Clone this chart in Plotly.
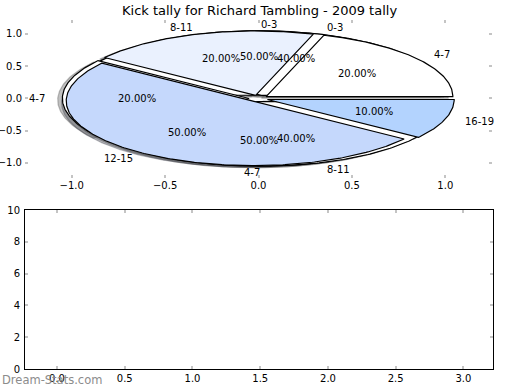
import numpy as np
import plotly.graph_objects as go

# ---- data ----
title_text = "Kick tally for Richard Tambling - 2009 tally"
pie1_labels = ["0-3", "4-7"]
pie1_values = [50, 50]
pie2_labels = ["0-3", "4-7", "8-11"]
pie2_values = [40, 20, 40]
pie3_labels = ["4-7", "8-11", "12-15", "16-19"]
pie3_values = [20, 20, 50, 10]
pie1_colors = ["#ffffff", "#ffffff"]
pie2_colors = ["#ffffff", "#ffffff", "#ffffff"]
pie3_colors = ["#ffffff", "#eaf1fe", "#c5d8fc", "#b3d3fe"]
pie_axis_ticks = [-1.0, -0.5, 0.0, 0.5, 1.0]
bottom_x_ticks = [0.0, 0.5, 1.0, 1.5, 2.0, 2.5, 3.0]
bottom_y_ticks = [0, 2, 4, 6, 8, 10]
watermark = "Dream-Stats.com"

pies = [
    (pie1_labels, pie1_values, pie1_colors),
    (pie2_labels, pie2_values, pie2_colors),
    (pie3_labels, pie3_values, pie3_colors),
]

EXPLODE = 0.05
SHADOW_OFF = 0.025
LABEL_DIST = 1.1
PCT_DIST = 0.6
FONT = "DejaVu Sans"


def wedge_geometry(values):
    vals = np.asarray(values, dtype=float)
    frac = vals / vals.sum()
    starts = np.concatenate([[0.0], np.cumsum(frac)[:-1]]) * 360.0
    ends = np.cumsum(frac) * 360.0
    out = []
    for t1, t2, f in zip(starts, ends, frac):
        tm = np.deg2rad((t1 + t2) / 2.0)
        cx, cy = EXPLODE * np.cos(tm), EXPLODE * np.sin(tm)
        arc = np.deg2rad(np.linspace(t1, t2, max(8, int((t2 - t1) * 1.5))))
        xs = np.concatenate([[cx], cx + np.cos(arc), [cx]])
        ys = np.concatenate([[cy], cy + np.sin(arc), [cy]])
        out.append((xs, ys, tm, cx, cy, f))
    return out


def hex_to_rgb(h):
    h = h.lstrip("#")
    return tuple(int(h[i:i + 2], 16) for i in (0, 2, 4))


fig = go.Figure()
geoms = [wedge_geometry(v) for _, v, _ in pies]

# shadows (drawn beneath all wedges)
for (labels, values, colors), geom in zip(pies, geoms):
    for (xs, ys, tm, cx, cy, f), col in zip(geom, colors):
        r, g, b = hex_to_rgb(col)
        sc = "rgba(%d,%d,%d,0.35)" % (0.3 * r, 0.3 * g, 0.3 * b)
        fig.add_trace(go.Scatter(
            x=xs - SHADOW_OFF, y=ys - SHADOW_OFF, mode="lines", fill="toself",
            fillcolor=sc, line=dict(color=sc, width=1.2),
            hoverinfo="skip", showlegend=False, xaxis="x", yaxis="y"))

# wedges
annotations = []
for (labels, values, colors), geom in zip(pies, geoms):
    for (xs, ys, tm, cx, cy, f), col, lab in zip(geom, colors, labels):
        fig.add_trace(go.Scatter(
            x=xs, y=ys, mode="lines", fill="toself", fillcolor=col,
            line=dict(color="black", width=1.2),
            hoverinfo="skip", showlegend=False, xaxis="x", yaxis="y"))
        lx = cx + LABEL_DIST * np.cos(tm)
        ly = cy + LABEL_DIST * np.sin(tm)
        right_side = lx > 0
        annotations.append(dict(
            x=lx, y=ly, xref="x", yref="y", text=lab, showarrow=False,
            xanchor="left" if right_side else "right", yanchor="middle",
            xshift=0 if right_side else 3,
            font=dict(family=FONT, size=10, color="black")))
        px = cx + PCT_DIST * np.cos(tm)
        py = cy + PCT_DIST * np.sin(tm)
        annotations.append(dict(
            x=px, y=py, xref="x", yref="y", text="%1.2f%%" % (f * 100),
            showarrow=False, xanchor="center", yanchor="middle",
            font=dict(family=FONT, size=10, color="black")))

# empty lower axes
fig.add_trace(go.Scatter(x=[], y=[], xaxis="x2", yaxis="y2",
                         showlegend=False, hoverinfo="skip"))

W, H = 520, 390

annotations.append(dict(
    x=259.5 / W, y=1 - 10 / H, xref="paper", yref="paper", text=title_text,
    showarrow=False, xanchor="center", yanchor="middle",
    font=dict(family=FONT, size=13, color="black")))
annotations.append(dict(
    x=0.0, y=1 - 380 / H, xref="paper", yref="paper", text=watermark,
    showarrow=False, xanchor="left", yanchor="middle",
    font=dict(family=FONT, size=11.5, color="#8c8c8c")))

tick_style = dict(ticks="inside", ticklen=3, tickwidth=2, tickcolor="#c4c4c4",
                  showgrid=False, zeroline=False,
                  tickfont=dict(family=FONT, size=10, color="black"))

fig.update_layout(
    width=W, height=H,
    margin=dict(l=0, r=0, t=0, b=0, autoexpand=False),
    paper_bgcolor="white", plot_bgcolor="white",
    showlegend=False,
    annotations=annotations,
    xaxis=dict(domain=[25 / W, 492 / W], range=[-1.25, 1.25],
               tickvals=pie_axis_ticks, tickformat=".1f",
               showline=False, mirror="ticks", anchor="y", **tick_style),
    yaxis=dict(domain=[1 - 178 / H, 1 - 20 / H], range=[-1.233, 1.217],
               tickvals=pie_axis_ticks, tickformat=".1f", ticklabelstandoff=2,
               showline=False, mirror="ticks", anchor="x", **tick_style),
    xaxis2=dict(domain=[25 / W, 493 / W], range=[-0.236, 3.218],
                tickvals=bottom_x_ticks, tickformat=".1f",
                showline=True, linecolor="black", linewidth=1,
                mirror="ticks", anchor="y2", **tick_style),
    yaxis2=dict(domain=[1 - 369 / H, 1 - 210 / H], range=[0, 10],
                tickvals=bottom_y_ticks, ticklabelstandoff=2,
                showline=True, linecolor="black", linewidth=1,
                mirror="ticks", anchor="x2", **tick_style),
)

fig.write_html("out.html", config={"displayModeBar": False},
               post_script="document.body.style.margin='0px';")
